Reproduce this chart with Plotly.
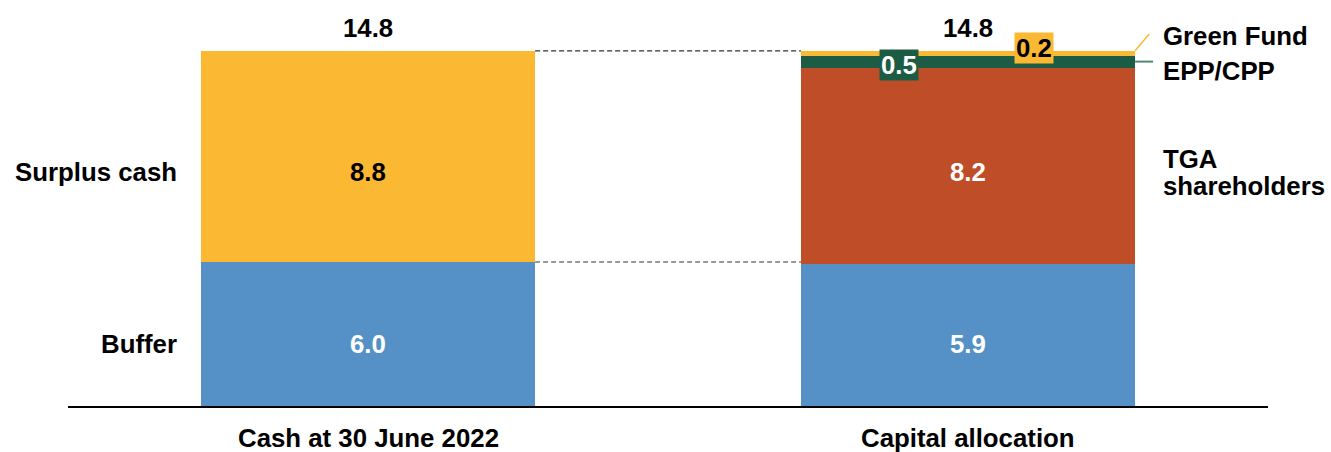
import plotly.graph_objects as go

# Data
categories = ["Cash at 30 June 2022", "Capital allocation"]
buffer_vals = [6.0, 5.9]
surplus_vals = [8.8, None]
tga_vals = [None, 8.2]
epp_vals = [None, 0.5]
green_vals = [None, 0.2]
totals = [14.8, 14.8]

BLUE = "#5591C6"
YELLOW = "#FBB933"
RUST = "#BF4E28"
GREEN = "#1C5C44"
FONT = "Liberation Sans, Arial, sans-serif"
FS = 25.8
BAR_W = 0.557

fig = go.Figure()
for name, vals, color in [
    ("Buffer", buffer_vals, BLUE),
    ("Surplus cash", surplus_vals, YELLOW),
    ("TGA shareholders", tga_vals, RUST),
    ("EPP/CPP", epp_vals, GREEN),
    ("Green Fund", green_vals, YELLOW),
]:
    fig.add_trace(go.Bar(
        x=categories, y=vals, name=name, width=BAR_W,
        marker=dict(color=color, line=dict(width=0)),
        hoverinfo="skip",
    ))

ann = []

def txt(x, y, s, color="black", **kw):
    d = dict(x=x, y=y, xref="x", yref="y", text=f"<b>{s}</b>", showarrow=False,
             font=dict(family=FONT, size=FS, color=color))
    d.update(kw)
    ann.append(d)

# Row heights used for in-bar and side labels
row_buffer = 2.58
row_upper = 9.75

# Totals above bars
for c, t in zip(categories, totals):
    txt(c, t, f"{t:.1f}", yshift=23)

# Segment values
txt(categories[0], row_buffer, f"{buffer_vals[0]:.1f}", "white")
txt(categories[1], row_buffer, f"{buffer_vals[1]:.1f}", "white")
txt(categories[0], row_upper, f"{surplus_vals[0]:.1f}", "black")
txt(categories[1], row_upper, f"{tga_vals[1]:.1f}", "white")

epp_mid = buffer_vals[1] + tga_vals[1] + epp_vals[1] / 2
green_mid = buffer_vals[1] + tga_vals[1] + epp_vals[1] + green_vals[1] / 2
txt(categories[1], epp_mid, f"{epp_vals[1]:.1f}", "white",
    bgcolor=GREEN, xshift=-69, yshift=-3, borderpad=1)
txt(categories[1], green_mid, f"{green_vals[1]:.1f}", "black",
    bgcolor=YELLOW, xshift=66, yshift=5, borderpad=1)

# Left-side row labels
for y, s in [(row_buffer, "Buffer"), (row_upper, "Surplus cash")]:
    ann.append(dict(x=-0.5, y=y, xref="x", yref="y", text=f"<b>{s}</b>",
                    showarrow=False, xanchor="right", xshift=111,
                    font=dict(family=FONT, size=FS, color="black")))

# Right-side labels
right_x = 1.5
for y, s, ys in [
    (totals[1], "Green Fund", 15),
    (totals[1], "EPP/CPP", -20),
    (row_upper, "TGA", 13),
    (row_upper, "shareholders", -14),
]:
    ann.append(dict(x=right_x, y=y, xref="x", yref="y", text=f"<b>{s}</b>",
                    showarrow=False, xanchor="left", align="left", xshift=-107, yshift=ys,
                    font=dict(family=FONT, size=FS, color="black")))

# Category labels below the axis
for c in categories:
    txt(c, 0, c, yshift=-32)

fig.update_layout(annotations=ann)

# Connector lines between the bars
x0_edge = 0 + BAR_W / 2
x1_edge = 1 - BAR_W / 2
for y in [totals[0], buffer_vals[0]]:
    fig.add_shape(type="line", xref="x", yref="y", x0=x0_edge, x1=x1_edge, y0=y, y1=y,
                  line=dict(color="#333333", width=1.2, dash="5px,3px"))

# Leader lines for the thin segments
fig.add_shape(type="line", xref="x", yref="y",
              x0=1 + BAR_W / 2, x1=1 + BAR_W / 2 + 0.027,
              y0=totals[1], y1=totals[1] + 0.8,
              line=dict(color=YELLOW, width=1.5))
fig.add_shape(type="line", xref="x", yref="y",
              x0=1 + BAR_W / 2, x1=1 + BAR_W / 2 + 0.03,
              y0=epp_mid, y1=epp_mid,
              line=dict(color="#4E8A75", width=2))

fig.update_layout(
    width=1331, height=452,
    margin=dict(l=68, r=63, t=34, b=46),
    paper_bgcolor="white", plot_bgcolor="white",
    barmode="stack", showlegend=False, bargap=0,
    xaxis=dict(range=[-0.5, 1.5], showticklabels=False, ticks="",
               showgrid=False, zeroline=False,
               showline=True, linecolor="black", linewidth=2),
    yaxis=dict(range=[0, 15.5], visible=False, showgrid=False, zeroline=False),
)

fig.write_html("out.html")
